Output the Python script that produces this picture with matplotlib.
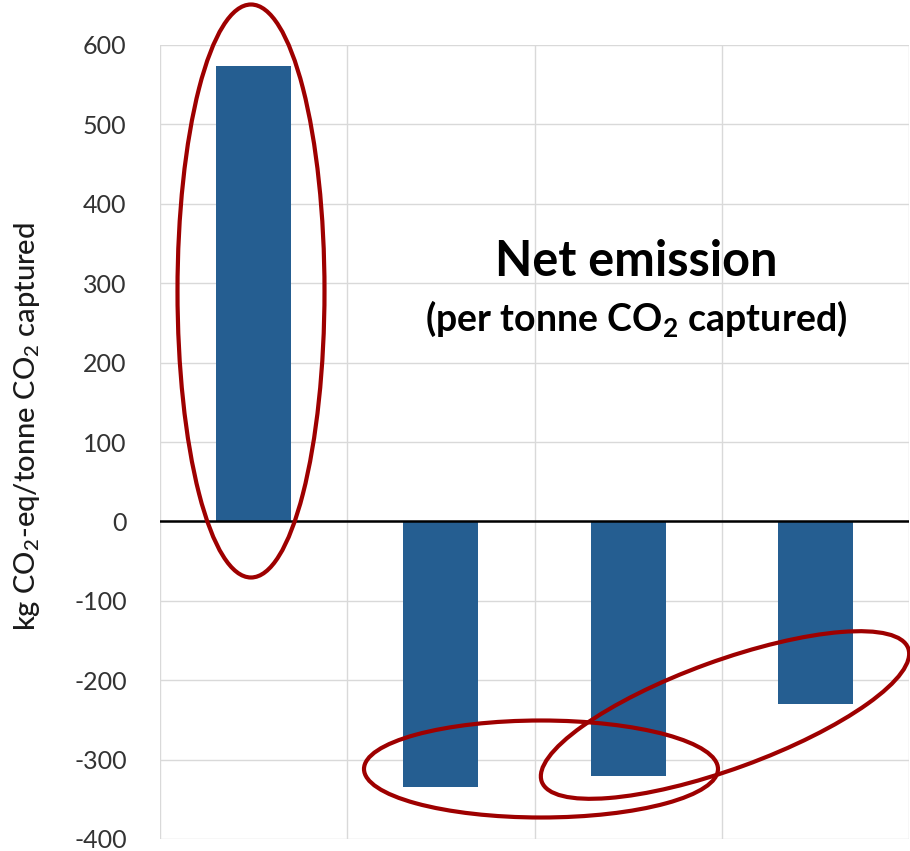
import matplotlib
matplotlib.use("Agg")
import matplotlib.pyplot as plt
from matplotlib.patches import Ellipse
from matplotlib.transforms import Affine2D

plt.rcParams['font.family'] = ['Lato', 'DejaVu Sans']
plt.rcParams['mathtext.fontset'] = 'custom'
plt.rcParams['mathtext.rm'] = 'Lato'
plt.rcParams['mathtext.bf'] = 'Lato:bold'

# data (kg CO2-eq / tonne CO2 captured)
categories = ["A", "B", "C", "D"]
net_emission = [573, -335, -321, -230]
yticks = [-400, -300, -200, -100, 0, 100, 200, 300, 400, 500, 600]

bar_color = "#255e91"
ring_color = "#9e0000"
grid_color = "#d9d9d9"
text_color = "#333333"

W, H = 910, 851
fig = plt.figure(figsize=(W / 100, H / 100), dpi=100)
ax = fig.add_axes([160 / W, 1 - 839 / H, 749 / W, 794 / H])

x = range(len(categories))
ax.bar(x, net_emission, width=0.4, color=bar_color, zorder=3)
ax.axhline(0, color="black", lw=1.8, zorder=4)

ax.set_xlim(-0.5, len(categories) - 0.5)
ax.set_ylim(-400, 600)
ax.set_yticks(yticks)
ax.set_yticklabels([str(v) for v in yticks], fontsize=18, color=text_color)
ax.set_xticks([])
ax.set_xticks([i - 0.5 for i in range(len(categories) + 1)], minor=True)
ax.tick_params(axis="y", length=0, pad=24)
ax.tick_params(axis="x", which="both", length=0, labelbottom=False)
ax.grid(axis="y", color=grid_color, lw=1, zorder=0)
ax.grid(axis="x", which="minor", color=grid_color, lw=1, zorder=0)
for s in ax.spines.values():
    s.set_visible(False)

ax.set_ylabel("kg CO$_\\mathregular{2}$-eq/tonne CO$_\\mathregular{2}$ captured",
              fontsize=21, color="#1a1a1a", fontweight="medium")
ax.yaxis.set_label_coords(-0.158, 0.519)

ax.text(0.636, 0.727, "Net emission", transform=ax.transAxes,
        ha="center", va="center", fontsize=35, fontweight="bold", zorder=5)
ax.text(0.636, 0.655, "(per tonne CO$_\\mathbf{2}$ captured)", transform=ax.transAxes,
        ha="center", va="center", fontsize=27, fontweight="bold", zorder=5)

# highlight rings, in image pixel coordinates (y down)
px = Affine2D().scale(1, -1).translate(0, H)
rings = [
    (251, 291, 147, 573, 0),
    (541, 769, 354, 97, 0),
    (725, 715, 390, 108, -20),
]
for cx, cy, w, h, ang in rings:
    e = Ellipse((cx, cy), w, h, angle=ang, fill=False, ec=ring_color, lw=3,
                transform=px, zorder=10)
    fig.add_artist(e)

fig.savefig("out.png", dpi=100)
